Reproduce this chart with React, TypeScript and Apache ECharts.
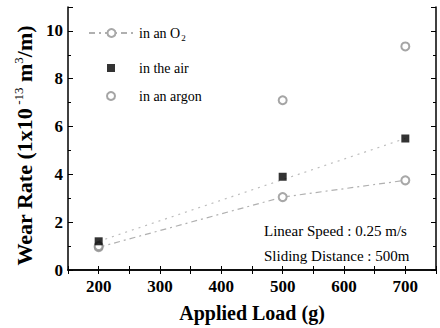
import React, { useEffect, useRef } from "react";
import * as echarts from "echarts";

const loads = [200, 500, 700];
const o2Values = [0.95, 3.05, 3.75];
const airValues = [1.2, 3.9, 5.5];
const argonValues = [1.0, 7.1, 9.35];
const airTrendX = [200, 700];
const airTrendY = [1.2, 5.5];
const xTickLabels = [200, 300, 400, 500, 600, 700];
const yTickLabels = [0, 2, 4, 6, 8, 10];
const notes = ["Linear Speed : 0.25 m/s", "Sliding Distance : 500m"];

const FONT = "'Liberation Serif', 'Times New Roman', serif";

export default function App() {
  const ref = useRef<HTMLDivElement>(null);
  useEffect(() => {
    if (!ref.current) return;
    const chart = echarts.init(ref.current, undefined, { renderer: "svg" });
    const pairs = (xs: number[], ys: number[]) => xs.map((x, i) => [x, ys[i]]);
    const axisLine = { show: true, lineStyle: { color: "#000", width: 1.5 } };
    const legendText = {
      fontFamily: FONT,
      fontSize: 14,
      color: "#000",
    };
    chart.setOption({
      animation: false,
      backgroundColor: "#fff",
      grid: { left: 68, right: 4, top: 7, bottom: 52 },
      legend: [
        {
          orient: "vertical",
          left: 88,
          top: 26,
          padding: 0,
          itemWidth: 45,
          itemHeight: 10,
          data: ["o2"],
          formatter: () => "in an O{sub|2}",
          textStyle: {
            ...legendText,
            rich: {
              sub: { fontFamily: FONT, fontSize: 9, verticalAlign: "bottom", padding: [9, 0, 0, 1] },
            },
          },
        },
        {
          orient: "vertical",
          left: 106,
          top: 61,
          padding: 0,
          itemWidth: 8,
          itemHeight: 8,
          itemGap: 14,
          data: ["air", "argon"],
          formatter: (n: string) => (n === "air" ? "{t|in the air}" : "{t|in an argon}"),
          textStyle: {
            ...legendText,
            rich: { t: { ...legendText, padding: [0, 0, 0, 19] } },
          },
        },
      ],
      xAxis: [
        {
          type: "value",
          min: 150,
          max: 750,
          interval: 50,
          axisLine,
          axisTick: { inside: true, length: 4, lineStyle: { color: "#000" } },
          splitLine: { show: false },
          axisLabel: {
            formatter: (v: number) => (xTickLabels.includes(v) ? String(v) : ""),
            fontFamily: FONT,
            fontSize: 17,
            fontWeight: "bold",
            color: "#000",
            margin: 8,
          },
          name: "Applied Load (g)",
          nameLocation: "middle",
          nameGap: 33,
          nameTextStyle: { fontFamily: FONT, fontSize: 20, fontWeight: "bold", color: "#000" },
        },
        {
          type: "value",
          position: "top",
          min: 150,
          max: 750,
          interval: 50,
          axisLine,
          axisTick: { inside: true, length: 4, lineStyle: { color: "#000" } },
          axisLabel: { show: false },
          splitLine: { show: false },
        },
      ],
      yAxis: [
        {
          type: "value",
          min: 0,
          max: 11,
          interval: 2,
          axisLine,
          axisTick: { inside: true, length: 5, lineStyle: { color: "#000" } },
          minorTick: { show: true, splitNumber: 2, length: 3, lineStyle: { color: "#000" } },
          splitLine: { show: false },
          axisLabel: {
            formatter: (v: number) => (yTickLabels.includes(v) ? String(v) : ""),
            showMaxLabel: false,
            fontFamily: FONT,
            fontSize: 17,
            fontWeight: "bold",
            color: "#000",
            margin: 5,
          },
          name: "Wear Rate (1x10{sup| -13} m{sup|3}/m)",
          nameLocation: "middle",
          nameGap: 30,
          nameTextStyle: {
            fontFamily: FONT,
            fontSize: 22,
            fontWeight: "bold",
            color: "#000",
            padding: [0, 14, 0, 0],
            rich: {
              sup: { fontFamily: FONT, fontSize: 13, fontWeight: "normal", verticalAlign: "top", padding: [0, 0, 11, 0] },
            },
          },
        },
        {
          type: "value",
          position: "right",
          min: 0,
          max: 11,
          interval: 2,
          axisLine,
          axisTick: { inside: true, length: 5, lineStyle: { color: "#000" } },
          minorTick: { show: true, splitNumber: 2, length: 3, lineStyle: { color: "#000" } },
          axisLabel: { show: false },
          splitLine: { show: false },
        },
      ],
      series: [
        {
          name: "air trend",
          type: "line",
          data: pairs(airTrendX, airTrendY),
          showSymbol: false,
          symbol: "none",
          lineStyle: { color: "#bdbdbd", width: 1.2, type: [2, 5] },
          z: 1,
          silent: true,
        },
        {
          name: "o2",
          type: "line",
          data: pairs(loads, o2Values),
          symbol: "emptyCircle",
          symbolSize: 8,
          itemStyle: { color: "#a8a8a8", borderWidth: 1 },
          lineStyle: { color: "#b0b0b0", width: 1.2, type: [6, 4, 2, 4] },
          z: 2,
        },
        {
          name: "argon",
          type: "scatter",
          data: pairs(loads, argonValues),
          symbol: "emptyCircle",
          symbolSize: 8,
          itemStyle: { color: "#8f8f8f", borderWidth: 1 },
          z: 3,
        },
        {
          name: "air",
          type: "scatter",
          data: pairs(loads, airValues),
          symbol: "rect",
          symbolSize: 8,
          itemStyle: { color: "#000" },
          z: 4,
        },
      ],
      graphic: notes.map((t, i) => ({
        type: "text",
        left: 264,
        top: 223 + i * 25,
        style: { text: t, fontFamily: FONT, fontSize: 15, fill: "#000" },
      })),
    });
    return () => chart.dispose();
  }, []);
  return <div ref={ref} style={{ width: 440, height: 328, position: "absolute", left: 0, top: 0 }} />;
}
